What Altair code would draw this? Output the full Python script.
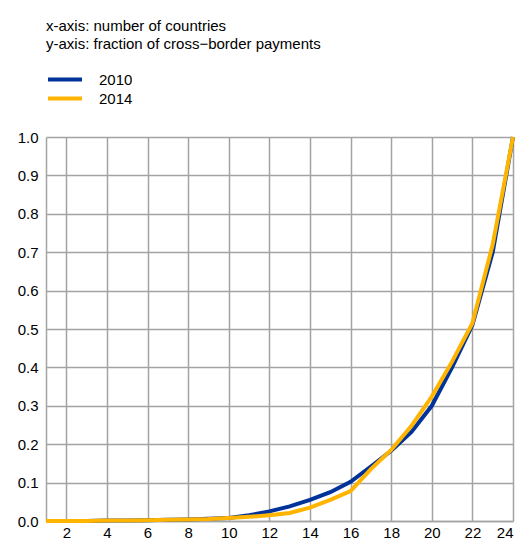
import altair as alt
import pandas as pd

countries = list(range(1, 25))
y2010 = [0, 0, 0, 0.001, 0.001, 0.002, 0.003, 0.004, 0.006, 0.008, 0.015, 0.025,
         0.038, 0.055, 0.075, 0.102, 0.142, 0.183, 0.232, 0.30, 0.40, 0.51, 0.70, 1.0]
y2014 = [0, 0, 0, 0.001, 0.001, 0.002, 0.003, 0.004, 0.005, 0.008, 0.011, 0.015,
         0.021, 0.035, 0.055, 0.078, 0.135, 0.185, 0.248, 0.324, 0.415, 0.515, 0.72, 1.0]
series = ["2010", "2014"]
colors = ["#003399", "#FFB400"]
title_lines = ["x-axis: number of countries", "y-axis: fraction of cross\u2212border payments"]
x_ticks = list(range(2, 25, 2))
y_ticks = [round(i * 0.1, 1) for i in range(11)]

rows = []
for c, a, b in zip(countries, y2010, y2014):
    rows.append({"n": c, "v": a, "year": "2010"})
    rows.append({"n": c, "v": b, "year": "2014"})
df = pd.DataFrame(rows)

FONT = "Liberation Sans"
GRID = "#a3a3a3"

lines = alt.Chart(df).mark_line(strokeWidth=4, interpolate="linear").encode(
    x=alt.X("n:Q", scale=alt.Scale(domain=[1, 24], nice=False, zero=False),
            axis=alt.Axis(values=x_ticks, title=None, grid=True, gridColor=GRID, gridWidth=1.5,
                          domainColor=GRID, domainWidth=1.5, ticks=False, labelPadding=4,
                          labelFontSize=15, labelFont=FONT, labelColor="#000")),
    y=alt.Y("v:Q", scale=alt.Scale(domain=[0, 1], nice=False),
            axis=alt.Axis(values=y_ticks, format=".1f", title=None, grid=True, gridColor=GRID,
                          gridWidth=1.5, domainColor=GRID, domainWidth=1.5, ticks=False,
                          labelPadding=8, labelFontSize=15, labelFont=FONT, labelColor="#000")),
    color=alt.Color("year:N", scale=alt.Scale(domain=series, range=colors),
                    legend=alt.Legend(orient="none", legendX=0, legendY=-67, title=None,
                                      symbolType="stroke", symbolSize=1156, symbolStrokeWidth=4,
                                      labelFontSize=15, labelFont=FONT, labelColor="#000",
                                      labelOffset=15, rowPadding=0, clipHeight=19)),
)

title = alt.Chart(pd.DataFrame({"t": [0]})).mark_text(
    align="left", baseline="middle", fontSize=15, font=FONT, color="#000", lineHeight=18
).encode(x=alt.value(0), y=alt.value(-111), text=alt.value(title_lines))

chart = alt.layer(lines, title).properties(
    width=467, height=384,
    autosize=alt.AutoSizeParams(type="none"),
    padding={"left": 38, "top": 129, "right": 2, "bottom": 18},
).configure_view(stroke=None)

chart.save("out.html", embed_options={"renderer": "svg", "actions": False})
